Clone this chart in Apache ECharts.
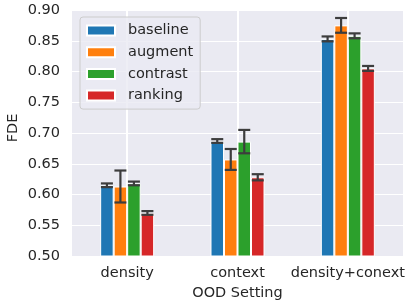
<!DOCTYPE html>
<html>
<head>
<meta charset="utf-8">
<script src="https://cdn.jsdelivr.net/npm/echarts@6/dist/echarts.min.js"></script>
<style>html,body{margin:0;padding:0;background:#fff}#c{width:406px;height:303px}</style>
</head>
<body>
<div id="c"></div>
<script>
const categories = ['density', 'context', 'density+conext'];
const seriesNames = ['baseline', 'augment', 'contrast', 'ranking'];
const colors = ['#1f77b4', '#ff7f0e', '#2ca02c', '#d62728'];
const baseline = [0.615, 0.687, 0.853];
const augment = [0.613, 0.657, 0.875];
const contrast = [0.618, 0.686, 0.858];
const ranking = [0.570, 0.628, 0.805];
const baselineErr = [0.003, 0.003, 0.004];
const augmentErr = [0.026, 0.017, 0.012];
const contrastErr = [0.003, 0.019, 0.004];
const rankingErr = [0.003, 0.005, 0.004];
const yTicks = [0.50, 0.55, 0.60, 0.65, 0.70, 0.75, 0.80, 0.85, 0.90];

const means = [baseline, augment, contrast, ranking];
const errs = [baselineErr, augmentErr, contrastErr, rankingErr];
const FONT = 'DejaVu Sans';
const TXT = '#262626';
const BAR_W = 13.5;
const Y_MIN = yTicks[0], Y_MAX = yTicks[yTicks.length - 1];

const chart = echarts.init(document.getElementById('c'), null, {renderer: 'canvas'});

// vertical white grid lines at the category centres, behind the bars
const vGrid = {
  type: 'custom',
  data: categories.map((c, k) => [k, Y_MAX]),
  encode: {x: 0, y: 1},
  z: 2,
  silent: true,
  renderItem: function (params, api) {
    const k = api.value(0);
    const a = api.coord([k, Y_MAX]);
    const b = api.coord([k, Y_MIN]);
    const x = Math.round(a[0]);
    return {
      type: 'line',
      shape: {x1: x, y1: a[1], x2: x, y2: b[1]},
      style: {stroke: '#ffffff', lineWidth: 2, fill: null}
    };
  }
};

const barSeries = seriesNames.map((name, i) => ({
  name: name,
  type: 'bar',
  data: means[i],
  barWidth: BAR_W,
  barGap: '0%',
  itemStyle: {color: colors[i], borderColor: '#ffffff', borderWidth: 1},
  emphasis: {disabled: true},
  z: 3
}));

const errSeries = seriesNames.map((name, i) => ({
  type: 'custom',
  data: means[i].map((m, k) => [k, m, errs[i][k]]),
  encode: {x: 0, y: 1},
  z: 5,
  silent: true,
  renderItem: function (params, api) {
    const k = api.value(0), m = api.value(1), e = api.value(2);
    const top = api.coord([k, m + e]);
    const bot = api.coord([k, m - e]);
    const x = top[0] + (i - 1.5) * BAR_W;
    const cap = 6;
    const style = {stroke: '#3d3d3d', lineWidth: 2.2, fill: null};
    const children = [];
    if (i === 0) {
      // grid line from the top of the plot down to the top of the tallest bar in the group
      const gTop = api.coord([k, Y_MAX]);
      let tallest = Y_MIN;
      means.forEach(s => { tallest = Math.max(tallest, s[k]); });
      const gBot = api.coord([k, tallest]);
      const gx = Math.round(gTop[0]);
      children.push({type: 'line', shape: {x1: gx, y1: gTop[1], x2: gx, y2: gBot[1]},
        style: {stroke: '#ffffff', lineWidth: 2, fill: null}, z2: -1});
    }
    children.push(
      {type: 'line', shape: {x1: x, y1: top[1], x2: x, y2: bot[1]}, style: style},
      {type: 'line', shape: {x1: x - cap, y1: top[1], x2: x + cap, y2: top[1]}, style: style},
      {type: 'line', shape: {x1: x - cap, y1: bot[1], x2: x + cap, y2: bot[1]}, style: style}
    );
    return {type: 'group', children: children};
  }
}));

chart.setOption({
  animation: false,
  textStyle: {fontFamily: FONT},
  grid: {left: 72, right: 3, top: 10, bottom: 47, show: true, backgroundColor: '#eaeaf2', borderWidth: 0,
    containLabel: false, outerBoundsMode: 'none'},
  legend: {
    data: seriesNames,
    orient: 'vertical',
    left: 80,
    top: 17,
    z: 10,
    padding: [5, 7, 5, 6],
    itemWidth: 28,
    itemHeight: 10,
    itemGap: 4.7,
    icon: 'rect',
    backgroundColor: 'rgba(234,234,242,0.8)',
    borderColor: '#cccccc',
    borderWidth: 1,
    borderRadius: 3,
    textStyle: {fontFamily: FONT, fontSize: 14.5, color: TXT, padding: [0, 0, 0, 8], lineHeight: 17}
  },
  xAxis: {
    type: 'category',
    data: categories,
    name: 'OOD Setting',
    nameLocation: 'middle',
    nameGap: 30,
    nameMoveOverlap: false,
    nameTextStyle: {fontFamily: FONT, fontSize: 14.5, color: TXT},
    axisLine: {show: false},
    axisTick: {show: false},
    axisLabel: {fontFamily: FONT, fontSize: 14.5, color: TXT, margin: 10, interval: 0, hideOverlap: false},
    splitLine: {show: false}
  },
  yAxis: {
    type: 'value',
    min: Y_MIN,
    max: Y_MAX,
    interval: 0.05,
    name: 'FDE',
    nameLocation: 'middle',
    nameGap: 51,
    nameMoveOverlap: false,
    nameTextStyle: {fontFamily: FONT, fontSize: 14.5, color: TXT, padding: [0, 0, 0, 10]},
    axisLine: {show: false},
    axisTick: {show: false},
    axisLabel: {fontFamily: FONT, fontSize: 14.5, color: TXT, margin: 12,
      formatter: v => yTicks.find(t => Math.abs(t - v) < 1e-6).toFixed(2)},
    splitLine: {show: true, lineStyle: {color: '#ffffff', width: 1.2}}
  },
  series: [vGrid].concat(barSeries, errSeries)
});
</script>
</body>
</html>
